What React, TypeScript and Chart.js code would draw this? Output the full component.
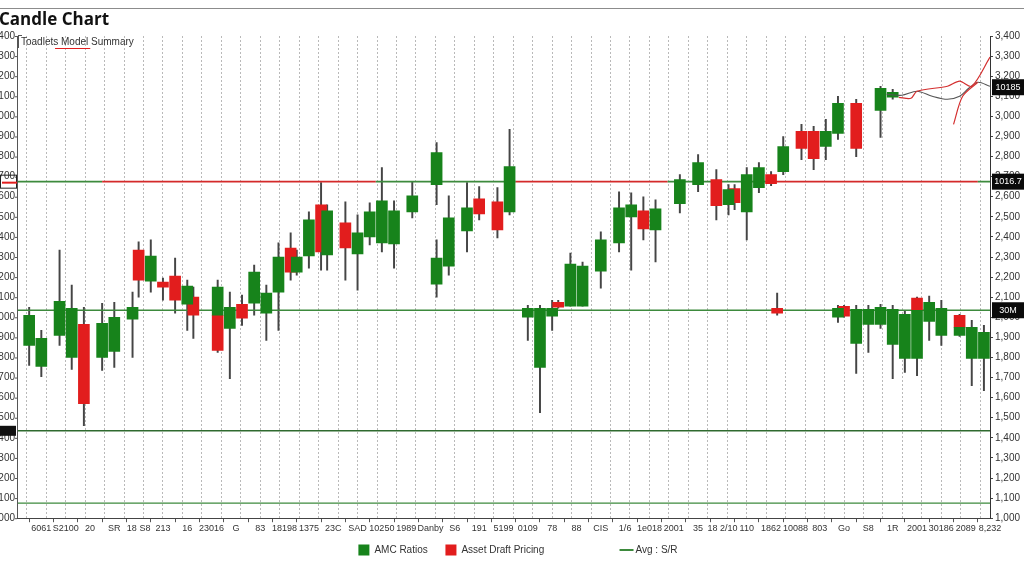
import React, { useEffect, useRef } from 'react';
import { Chart, registerables } from 'chart.js';

Chart.register(...registerables);

// ---- Candle data (session index, OHLC) ----
const sessions = [2, 4, 7, 9, 11, 14, 16, 19, 20, 22, 24, 26, 28, 29, 33, 33, 35, 37, 39, 41, 43, 45, 46, 48, 50, 51, 54, 56, 58, 60, 62, 65, 69, 69, 71, 74, 76, 79, 81, 84, 86, 88, 89, 91, 93, 96, 99, 101, 103, 105, 109, 112, 115, 117, 118, 120, 122, 124, 125, 126, 129, 131, 133, 135, 135, 136, 138, 138, 140, 142, 142, 144, 144, 146, 148, 148, 150, 152, 155, 155, 157, 159];
const opens = [1860, 1755, 1910, 1800, 1965, 1800, 1830, 1990, 2335, 2180, 2175, 2205, 2065, 2100, 2010, 2010, 1945, 2065, 2070, 2020, 2125, 2345, 2225, 2305, 2560, 2310, 2470, 2315, 2400, 2370, 2365, 2525, 2660, 2165, 2255, 2430, 2590, 2575, 2525, 2000, 1750, 2005, 2075, 2055, 2055, 2230, 2370, 2500, 2530, 2435, 2565, 2660, 2685, 2560, 2640, 2525, 2645, 2710, 2045, 2725, 2925, 2925, 2850, 2915, 2000, 2055, 3065, 1870, 1965, 3030, 1965, 3095, 1865, 1795, 2095, 1795, 1980, 1910, 2010, 1910, 1795, 1795];
const highs = [2050, 1935, 2335, 2160, 2050, 2070, 2075, 2125, 2375, 2385, 2195, 2295, 2185, 2150, 2185, 2010, 2125, 2110, 2260, 2160, 2370, 2420, 2335, 2525, 2670, 2560, 2575, 2510, 2570, 2745, 2580, 2675, 2870, 2385, 2605, 2670, 2650, 2645, 2935, 2060, 2060, 2085, 2085, 2320, 2275, 2425, 2625, 2620, 2600, 2585, 2710, 2810, 2735, 2660, 2660, 2745, 2770, 2725, 2120, 2900, 2960, 2950, 2985, 3100, 2060, 2060, 3085, 2060, 2060, 3150, 2065, 3135, 2060, 2035, 2100, 2060, 2105, 2085, 2015, 1985, 1985, 1960];
const lows = [1760, 1705, 1860, 1740, 1460, 1735, 1750, 1800, 2100, 2125, 2085, 2020, 1935, 1895, 2000, 1825, 1695, 1960, 2010, 1885, 1935, 2185, 2210, 2245, 2235, 2235, 2185, 2135, 2360, 2325, 2245, 2495, 2560, 2100, 2210, 2325, 2485, 2395, 2510, 1885, 1525, 1935, 2045, 2055, 2055, 2145, 2325, 2235, 2385, 2275, 2520, 2625, 2485, 2510, 2535, 2385, 2620, 2655, 2010, 2710, 2785, 2735, 2785, 2885, 1975, 2000, 2800, 1720, 1825, 2895, 1945, 3085, 1695, 1725, 2035, 1710, 1885, 1860, 1950, 1905, 1660, 1635];
const closes = [2010, 1895, 2080, 2045, 1570, 1970, 2000, 2050, 2185, 2305, 2150, 2085, 2155, 2010, 2150, 1835, 2050, 1995, 2225, 2120, 2300, 2225, 2300, 2485, 2325, 2530, 2345, 2420, 2525, 2580, 2530, 2605, 2820, 2295, 2495, 2545, 2515, 2435, 2750, 2045, 2045, 2045, 2050, 2265, 2255, 2385, 2545, 2560, 2440, 2540, 2685, 2770, 2555, 2635, 2570, 2710, 2745, 2665, 2020, 2850, 2840, 2790, 2925, 3065, 2045, 2005, 2840, 2040, 2040, 3140, 2050, 3120, 2040, 2015, 2035, 2035, 2075, 2045, 1950, 1950, 1950, 1925];

// ---- Level lines ----
const resistanceLevel = 2675;
const resistanceBreaks = [0, 14, 59, 82, 107, 124, 158, 160];
const resistanceSegmentIsRed = [false, true, false, true, false, true, false];
const supportLevels = [2035, 1435, 1075];

// ---- Trend squiggles (top right) ----
const trendRedX = [145, 147, 148, 153, 155, 157, 160];
const trendRedY = [3095, 3090, 3125, 3150, 3175, 3150, 3295];
const trendRed2X = [154, 155.5, 158];
const trendRed2Y = [2960, 3100, 3170];
const trendGrayX = [143, 145.5, 148, 150.5, 153, 155, 156.5, 158, 160];
const trendGrayY = [3110, 3105, 3125, 3100, 3085, 3100, 3140, 3170, 3150];

// ---- Tags ----
const rightTagValues = [3145, 2675, 2035];
const rightTagTexts = ['10185', '1016.7', '30M'];
const leftTagValues = [2675, 1435];

// ---- Labels ----
const titleText = 'Candle Chart';
const noteText = 'Toadlets Model Summary';
const legendTexts = ['AMC Ratios', 'Asset Draft Pricing', 'Avg : S/R'];
const xTickLabels = ['', '6061', 'S2100', '20', 'SR', '18 S8', '213', '16', '23016', 'G', '83', '18198', '1375', '23C', 'SAD', '10250', '1989', 'Danby', 'S6', '191', '5199', '0109', '78', '88', 'CIS', '1/6', '1e018', '2001', '35', '18 2/10', '110', '1862', '10088', '803', 'Go', 'S8', '1R', '2001', '30186', '2089', '8,232'];

const GREEN = '#17831b';
const GREEN_EDGE = '#0f6a13';
const RED = '#e21d1d';
const WICK = '#454545';
const LEVEL_GREEN = '#3d8a3d';
const FONT = "'Liberation Sans', Arial, sans-serif";

export default function App() {
  const ref = useRef<HTMLCanvasElement | null>(null);

  useEffect(() => {
    const idx = sessions.map((_, i) => i);
    const bull = idx.filter((i) => closes[i] >= opens[i]);
    const bear = idx.filter((i) => closes[i] < opens[i]);

    const bodyCommon = {
      type: 'bar' as const,
      barThickness: 11,
      grouped: false,
      borderSkipped: false,
      borderWidth: 0,
      order: 1,
    };

    const decor = {
      id: 'decor',
      beforeDraw(chart: any) {
        const { ctx, width } = chart;
        ctx.save();
        ctx.fillStyle = '#ffffff';
        ctx.fillRect(0, 0, width, chart.height);
        ctx.strokeStyle = '#8c8c8c';
        ctx.lineWidth = 1;
        ctx.beginPath();
        ctx.moveTo(0, 8.5);
        ctx.lineTo(width, 8.5);
        ctx.stroke();
        // title
        ctx.fillStyle = '#111';
        ctx.font = "bold 17px 'Open Sans', 'DejaVu Sans', sans-serif";
        ctx.textAlign = 'left';
        ctx.textBaseline = 'middle';
        ctx.fillText(titleText, -1, 20);
        ctx.restore();
      },
      afterDraw(chart: any) {
        const { ctx, chartArea } = chart;
        const y = chart.scales.y;
        ctx.save();
        // left border
        ctx.strokeStyle = '#555';
        ctx.lineWidth = 1;
        ctx.beginPath();
        ctx.moveTo(chartArea.left + 0.5, chartArea.top);
        ctx.lineTo(chartArea.left + 0.5, chartArea.bottom);
        ctx.stroke();
        // left clipped tick labels
        ctx.font = `10px ${FONT}`;
        ctx.fillStyle = '#333';
        ctx.textAlign = 'right';
        ctx.textBaseline = 'middle';
        y.ticks.forEach((t: any) => {
          const py = y.getPixelForValue(t.value);
          ctx.fillText(Number(t.value).toLocaleString('en-US'), chartArea.left - 2, py);
          ctx.beginPath();
          ctx.moveTo(chartArea.left - 2, py + 0.5);
          ctx.lineTo(chartArea.left, py + 0.5);
          ctx.stroke();
        });
        // left tags
        leftTagValues.forEach((v, i) => {
          const py = y.getPixelForValue(v);
          if (i === 0) {
            ctx.strokeStyle = '#222';
            ctx.strokeRect(0.5, py - 6.5, 16, 13);
            ctx.strokeStyle = RED;
            ctx.lineWidth = 2;
            ctx.beginPath();
            ctx.moveTo(2, py + 1);
            ctx.lineTo(chartArea.left, py + 1);
            ctx.stroke();
            ctx.lineWidth = 1;
          } else {
            ctx.fillStyle = '#111';
            ctx.fillRect(0, py - 5, 16, 10);
          }
        });
        // right tags
        ctx.textAlign = 'center';
        ctx.font = `9px ${FONT}`;
        rightTagValues.forEach((v, i) => {
          const py = y.getPixelForValue(v);
          ctx.fillStyle = '#0a0a0a';
          ctx.fillRect(chartArea.right + 2, py - 8, 32, 16);
          ctx.fillStyle = '#ffffff';
          ctx.fillText(rightTagTexts[i], chartArea.right + 18, py);
        });
        // top-left note
        ctx.textAlign = 'left';
        ctx.font = `10px ${FONT}`;
        ctx.fillStyle = '#333';
        const nx = chartArea.left + 4;
        const ny = chartArea.top + 6;
        ctx.fillText(noteText, nx, ny);
        ctx.strokeStyle = '#555';
        ctx.beginPath();
        ctx.moveTo(chartArea.left + 1.5, chartArea.top - 1);
        ctx.lineTo(chartArea.left + 1.5, chartArea.top + 12);
        ctx.moveTo(chartArea.left + 1.5, chartArea.top - 0.5);
        ctx.lineTo(chartArea.left + 5, chartArea.top - 0.5);
        ctx.stroke();
        const w1 = ctx.measureText('Toadlets ').width;
        const w2 = ctx.measureText('Model').width;
        ctx.strokeStyle = RED;
        ctx.beginPath();
        ctx.moveTo(nx + w1 - 6, ny + 6.5);
        ctx.lineTo(nx + w1 + w2 + 2, ny + 6.5);
        ctx.stroke();
        // bottom legend
        const ly = 550;
        const W = chart.width;
        const items = [
          { kind: 'box', color: GREEN, x: W * 0.35, text: legendTexts[0] },
          { kind: 'box', color: RED, x: W * 0.435, text: legendTexts[1] },
          { kind: 'line', color: LEVEL_GREEN, x: W * 0.605, text: legendTexts[2] },
        ];
        ctx.textBaseline = 'middle';
        items.forEach((it) => {
          if (it.kind === 'box') {
            ctx.fillStyle = it.color;
            ctx.fillRect(it.x, ly - 5.5, 11, 11);
          } else {
            ctx.strokeStyle = it.color;
            ctx.lineWidth = 2;
            ctx.beginPath();
            ctx.moveTo(it.x, ly);
            ctx.lineTo(it.x + 14, ly);
            ctx.stroke();
            ctx.lineWidth = 1;
          }
          ctx.fillStyle = '#333';
          ctx.fillText(it.text, it.x + 16, ly);
        });
        ctx.restore();
      },
    };

    const lineCommon = {
      type: 'line' as const,
      pointRadius: 0,
      fill: false,
      order: 4,
    };

    const chart = new Chart(ref.current as HTMLCanvasElement, {
      type: 'bar',
      data: {
        datasets: [
          {
            ...bodyCommon,
            label: legendTexts[0],
            data: bull.map((i) => ({ x: sessions[i], y: [opens[i], closes[i]] })),
            backgroundColor: GREEN,
            borderColor: GREEN_EDGE,
          },
          {
            ...bodyCommon,
            label: legendTexts[1],
            data: bear.map((i) => ({ x: sessions[i], y: [opens[i], closes[i]] })),
            backgroundColor: RED,
            borderColor: RED,
          },
          {
            type: 'bar',
            label: 'Wicks',
            data: idx.map((i) => ({ x: sessions[i], y: [lows[i], highs[i]] })),
            backgroundColor: WICK,
            barThickness: 1.3,
            grouped: false,
            borderWidth: 0,
            order: 6,
          },
          {
            ...lineCommon,
            label: 'Resistance',
            data: resistanceBreaks.map((b) => ({ x: b, y: resistanceLevel })),
            borderColor: LEVEL_GREEN,
            borderWidth: 1.6,
            segment: {
              borderColor: (c: any) => (resistanceSegmentIsRed[c.p0DataIndex] ? '#d42a2a' : LEVEL_GREEN),
            },
          },
          ...supportLevels.map((lv, k) => ({
            ...lineCommon,
            label: legendTexts[2] + ' ' + k,
            data: [{ x: 0, y: lv }, { x: 160, y: lv }],
            borderColor: k === 1 ? '#2f6a2f' : LEVEL_GREEN,
            borderWidth: k === 2 ? 1.2 : 1.6,
          })),
          {
            ...lineCommon,
            label: 'Trend A',
            data: trendRedX.map((x, i) => ({ x, y: trendRedY[i] })),
            borderColor: '#d43030',
            borderWidth: 1.2,
            tension: 0.3,
            order: 0,
          },
          {
            ...lineCommon,
            label: 'Trend B',
            data: trendRed2X.map((x, i) => ({ x, y: trendRed2Y[i] })),
            borderColor: '#d43030',
            borderWidth: 1.2,
            tension: 0.3,
            order: 0,
          },
          {
            ...lineCommon,
            label: 'Trend C',
            data: trendGrayX.map((x, i) => ({ x, y: trendGrayY[i] })),
            borderColor: '#555555',
            borderWidth: 1.1,
            tension: 0.3,
            order: 0,
          },
        ] as any,
      },
      options: {
        responsive: false,
        animation: false,
        events: [],
        layout: { padding: { left: 17, right: 0, top: 36, bottom: 50 } },
        scales: {
          x: {
            type: 'linear',
            min: 0,
            max: 160,
            offset: false,
            position: 'bottom',
            grid: { drawOnChartArea: false, drawTicks: true, tickLength: 4, color: '#555' },
            border: { display: true, color: '#444' },
            ticks: {
              stepSize: 4,
              autoSkip: false,
              maxRotation: 0,
              padding: 1,
              color: '#333',
              font: { size: 9, family: FONT },
              callback: (v: any) => xTickLabels[Math.round(Number(v) / 4)] ?? '',
            },
          },
          xg: {
            type: 'linear',
            min: 0,
            max: 50,
            position: 'top',
            offset: false,
            grid: { drawTicks: false, color: '#b9b9b9', lineWidth: 1 },
            border: { display: false, dash: [2, 2] },
            ticks: { display: false, stepSize: 1 },
          },
          y: {
            type: 'linear',
            position: 'right',
            min: 1000,
            max: 3400,
            grid: { drawOnChartArea: false, tickLength: 3, color: '#444' },
            border: { display: true, color: '#333' },
            ticks: {
              stepSize: 100,
              padding: 2,
              color: '#333',
              font: { size: 10, family: FONT },
              callback: (v: any) => Number(v).toLocaleString('en-US'),
            },
            afterFit: (s: any) => {
              s.width = 34;
            },
          },
        },
        plugins: {
          title: { display: false },
          legend: { display: false },
          tooltip: { enabled: false },
        },
      } as any,
      plugins: [decor],
    });
    return () => chart.destroy();
  }, []);

  return (
    <div style={{ position: 'fixed', left: 0, top: 0, width: 1024, height: 585, background: '#fff' }}>
      <canvas ref={ref} width={1024} height={585} style={{ display: 'block' }} />
    </div>
  );
}
